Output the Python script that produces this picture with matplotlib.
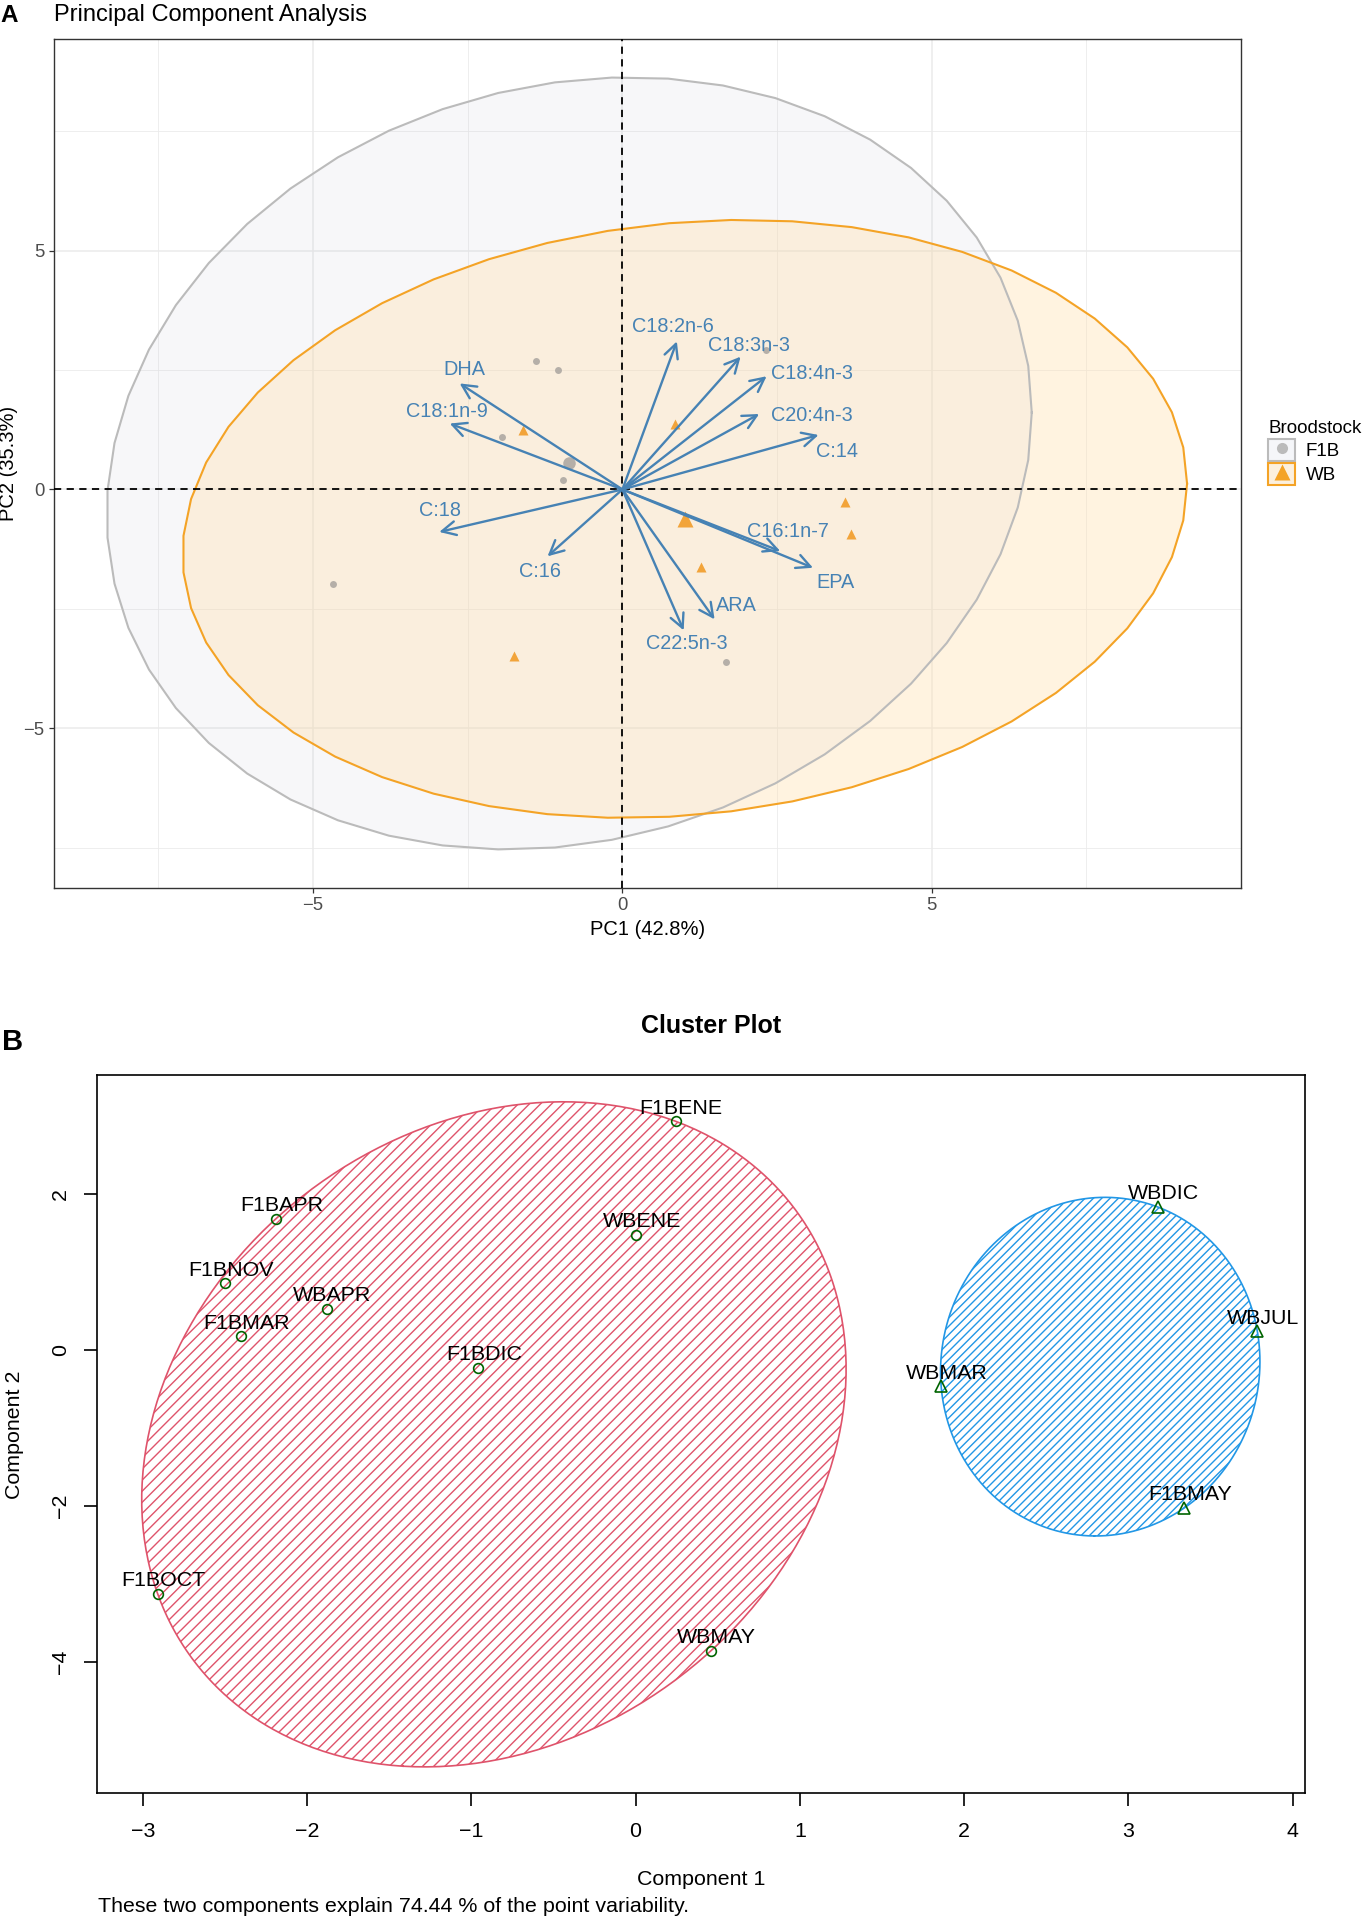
import numpy as np
import matplotlib
matplotlib.use("Agg")
import matplotlib.pyplot as plt
from matplotlib.patches import Polygon, Patch
from matplotlib.lines import Line2D

plt.rcParams['font.family'] = ['Liberation Sans', 'DejaVu Sans']
plt.rcParams['hatch.linewidth'] = 1.0

# ---- panel A data: PCA individuals and variable loadings ----
f1b_x = [-1.39, -1.04, -1.94, -0.96, 2.32, 1.67, -4.68]
f1b_y = [2.68, 2.51, 1.09, 0.19, 2.93, -3.61, -1.97]
wb_x = [-1.60, 0.85, 3.60, 3.69, 1.27, -1.76]
wb_y = [1.24, 1.38, -0.27, -0.93, -1.63, -3.49]

var_names = ['DHA', 'C18:1n-9', 'C:18', 'C:16', 'C18:2n-6', 'C18:3n-3',
             'C18:4n-3', 'C20:4n-3', 'C:14', 'C16:1n-7', 'EPA', 'ARA',
             'C22:5n-3']
var_x = [-2.63, -2.79, -2.96, -1.21, 0.88, 1.91, 2.33, 2.21, 3.17, 2.55,
         3.08, 1.49, 0.99]
var_y = [2.22, 1.38, -0.89, -1.40, 3.10, 2.78, 2.37, 1.58, 1.14, -1.29,
         -1.64, -2.72, -2.95]
# label placement relative to arrow tip (data units)
lab_dx = [0.07, -0.05, 0.01, -0.12, -0.06, 0.14, 0.73, 0.85, 0.30, 0.12,
          0.36, 0.36, 0.05]
lab_dy = [0.30, 0.26, 0.45, -0.31, 0.32, 0.23, 0.05, -0.03, -0.35, 0.42,
          -0.31, 0.28, -0.27]

# ---- panel B data: cluster plot ----
c1_names = ['F1BENE', 'F1BAPR', 'F1BNOV', 'F1BMAR', 'F1BDIC', 'F1BOCT',
            'WBENE', 'WBAPR', 'WBMAY']
c1_x = [0.244, -2.19, -2.50, -2.40, -0.957, -2.91, 0.004, -1.88, 0.46]
c1_y = [2.93, 1.68, 0.85, 0.17, -0.234, -3.13, 1.475, 0.52, -3.86]
c2_names = ['WBDIC', 'WBJUL', 'WBMAR', 'F1BMAY']
c2_x = [3.18, 3.785, 1.86, 3.34]
c2_y = [1.83, 0.235, -0.47, -2.03]

GREY = '#BBBBBB'
GREY_PT = '#B5AFA8'
ORANGE = '#F4A326'
ORANGE_PT = '#F2A43A'
STEEL = '#4682B4'
RED = '#DF536B'
BLUE = '#2297E6'
GREEN = '#006400'


def norm_ellipse(x, y, level=0.95, segments=51):
    pts = np.column_stack([x, y])
    n = len(pts)
    center = pts.mean(axis=0)
    cov = np.cov(pts, rowvar=False)
    dfd = n - 1
    qf = dfd / 2 * ((1 - level) ** (-2 / dfd) - 1)  # F(2, dfd) quantile
    radius = np.sqrt(2 * qf)
    t = np.linspace(0, 2 * np.pi, segments + 1)
    circle = np.column_stack([np.cos(t), np.sin(t)])
    chol = np.linalg.cholesky(cov).T
    return center + radius * circle @ chol


def mvee(x, y, tol=1e-9):
    P = np.column_stack([x, y])
    N, d = P.shape
    Q = np.vstack([P.T, np.ones(N)])
    u = np.ones(N) / N
    for _ in range(200000):
        X = Q @ np.diag(u) @ Q.T
        M = np.einsum('ij,ji->i', Q.T @ np.linalg.inv(X), Q)
        j = np.argmax(M)
        step = (M[j] - d - 1) / ((d + 1) * (M[j] - 1))
        new_u = (1 - step) * u
        new_u[j] += step
        if np.linalg.norm(new_u - u) < tol:
            u = new_u
            break
        u = new_u
    c = P.T @ u
    A = np.linalg.inv(P.T @ np.diag(u) @ P - np.outer(c, c)) / d
    w, V = np.linalg.eigh(A)
    t = np.linspace(0, 2 * np.pi, 361)
    circ = np.vstack([np.cos(t), np.sin(t)])
    return (c[:, None] + V @ np.diag(1 / np.sqrt(w)) @ circ).T


fig = plt.figure(figsize=(13.62, 19.2), dpi=100)

# ================= Panel A =================
axA = fig.add_axes([0.0393, 0.5375, 0.8719, 0.4422])
ell_f = norm_ellipse(f1b_x, f1b_y)
ell_w = norm_ellipse(wb_x, wb_y)

allx = np.concatenate([ell_f[:, 0], ell_w[:, 0]])
ally = np.concatenate([ell_f[:, 1], ell_w[:, 1]])
ex = 0.05 * (allx.max() - allx.min())
ey = 0.05 * (ally.max() - ally.min())
axA.set_xlim(allx.min() - ex, allx.max() + ex)
axA.set_ylim(ally.min() - ey, ally.max() + ey)

axA.add_patch(Polygon(ell_f, closed=True, facecolor='#B4B9C8', alpha=0.1,
                      edgecolor='none', zorder=2))
axA.add_patch(Polygon(ell_w, closed=True, facecolor='#FFE0AF', alpha=0.375,
                      edgecolor='none', zorder=2))
axA.plot(ell_f[:, 0], ell_f[:, 1], color=GREY, lw=1.5, zorder=2.2)
axA.plot(ell_w[:, 0], ell_w[:, 1], color=ORANGE, lw=1.5, zorder=2.2)

axA.plot(f1b_x, f1b_y, 'o', color=GREY_PT, ms=5, mec='none', zorder=3)
axA.plot(np.mean(f1b_x), np.mean(f1b_y), 'o', color=GREY_PT, ms=9, mec='none', zorder=3)
axA.plot(wb_x, wb_y, '^', color=ORANGE_PT, ms=6.5, mec='none', zorder=3)
axA.plot(np.mean(wb_x), np.mean(wb_y), '^', color=ORANGE_PT, ms=12, mec='none', zorder=3)

axA.axhline(0, color='black', lw=1.3, dashes=(4, 3), zorder=4)
axA.axvline(0, color='black', lw=1.3, dashes=(4, 3), zorder=4)

for name, vx, vy, dx, dy in zip(var_names, var_x, var_y, lab_dx, lab_dy):
    axA.annotate('', xy=(vx, vy), xytext=(0, 0),
                 arrowprops=dict(arrowstyle='->,head_length=0.5,head_width=0.25',
                                 color=STEEL, lw=1.7, shrinkA=0, shrinkB=0,
                                 mutation_scale=20), zorder=5)
    axA.text(vx + dx, vy + dy, name, color=STEEL, fontsize=14.3,
             ha='center', va='center', zorder=6)

axA.set_xticks([-5, 0, 5])
axA.set_yticks([-5, 0, 5])
axA.set_xticklabels(['\u22125', '0', '5'])
axA.set_yticklabels(['\u22125', '0', '5'])
axA.set_xticks([-7.5, -2.5, 2.5, 7.5], minor=True)
axA.set_yticks([-7.5, -2.5, 2.5, 7.5], minor=True)
axA.grid(which='major', color='#EBEBEB', lw=1.1, zorder=0)
axA.grid(which='minor', color='#EBEBEB', lw=0.6, zorder=0)
axA.set_axisbelow(True)
axA.tick_params(which='major', length=3.6, width=0.9, color='#333333',
                labelcolor='#4D4D4D', labelsize=13.3, pad=3)
axA.tick_params(which='minor', length=0)
for s in axA.spines.values():
    s.set_color('#333333')
    s.set_linewidth(1.0)

axA.set_xlabel('PC1 (42.8%)', fontsize=14.5, va='center')
axA.xaxis.set_label_coords(0.5, -0.049)
axA.set_ylabel('PC2 (35.3%)', fontsize=14.5, va='center')
axA.yaxis.set_label_coords(-0.0375, 0.5)

fig.text(0.0393, 1 - 15 / 1920, 'Principal Component Analysis', fontsize=17,
         ha='left', va='center')
fig.text(0.0005, 1 - 15 / 1920, 'A', fontsize=17.5, fontweight='bold',
         ha='left', va='center')

handles = [
    (Patch(facecolor='#F5F6F9', edgecolor=GREY, lw=1.5),
     Line2D([], [], marker='o', ls='', color=GREY, ms=8, mec='none')),
    (Patch(facecolor='#FCF0DE', edgecolor=ORANGE, lw=1.5),
     Line2D([], [], marker='^', ls='', color=ORANGE, ms=11, mec='none')),
]
leg = axA.legend(handles, ['F1B', 'WB'], title='Broodstock', frameon=False,
                 loc='upper left', bbox_transform=fig.transFigure,
                 bbox_to_anchor=(1268 / 1362, 1 - 420 / 1920),
                 fontsize=13.5, title_fontsize=13.5, handlelength=1.45,
                 handleheight=1.45, labelspacing=0.1, handletextpad=0.55,
                 borderpad=0, borderaxespad=0, alignment='left')

# ================= Panel B =================
axB = fig.add_axes([0.0712, 0.0659, 0.8867, 0.3741])
hull1 = mvee(c1_x, c1_y)
hull2 = mvee(c2_x, c2_y)

hx = np.concatenate([hull1[:, 0], hull2[:, 0]])
hy = np.concatenate([hull1[:, 1], hull2[:, 1]])
px = 0.04 * (hx.max() - hx.min())
py = 0.04 * (hy.max() - hy.min())
axB.set_xlim(hx.min() - px, hx.max() + px)
axB.set_ylim(hy.min() - py, hy.max() + py)

for hull, col, hatch in [(hull1, RED, '///'), (hull2, BLUE, '////')]:
    axB.add_patch(Polygon(hull, closed=True, facecolor='none', edgecolor=col,
                          lw=0, hatch=hatch, zorder=2))
    axB.plot(hull[:, 0], hull[:, 1], color=col, lw=1.2, zorder=3)

axB.plot(c1_x, c1_y, 'o', mfc='none', mec=GREEN, ms=7, mew=1.2, zorder=4)
axB.plot(c2_x, c2_y, '^', mfc='none', mec=GREEN, ms=8, mew=1.2, zorder=4)
for names, xs, ys in [(c1_names, c1_x, c1_y), (c2_names, c2_x, c2_y)]:
    for nm, x, y in zip(names, xs, ys):
        axB.annotate(nm, (x, y), xytext=(4, 9.5), textcoords='offset points',
                     ha='center', va='center', fontsize=15.4, zorder=5)

axB.set_xticks(range(-3, 5))
axB.set_yticks([-4, -2, 0, 2])
axB.set_xticklabels(['\u22123', '\u22122', '\u22121', '0', '1', '2', '3', '4'])
axB.set_yticklabels(['\u22124', '\u22122', '0', '2'])
axB.tick_params(length=9.5, width=1.2, labelsize=15.4, color='black')
axB.tick_params(axis='x', pad=11)
axB.tick_params(axis='y', pad=10)
for lbl in axB.get_yticklabels():
    lbl.set_rotation(90)
    lbl.set_va('center')
for s in axB.spines.values():
    s.set_linewidth(1.2)

axB.set_xlabel('Component 1', fontsize=15.4, va='center')
axB.xaxis.set_label_coords(0.5, -0.1204)
axB.set_ylabel('Component 2', fontsize=15.4, va='center')
axB.yaxis.set_label_coords(-0.0687, 0.5)
fig.text(711 / 1362, 1 - 1026 / 1920, 'Cluster Plot', fontsize=18,
         fontweight='bold', ha='center', va='center')
fig.text(0.0015, 1 - 1042 / 1920, 'B', fontsize=21, fontweight='bold',
         ha='left', va='center')
fig.text(98 / 1362, 1 - 1907 / 1920,
         'These two components explain 74.44 % of the point variability.',
         fontsize=15.4, ha='left', va='center')

fig.savefig('out.png', dpi=100)
